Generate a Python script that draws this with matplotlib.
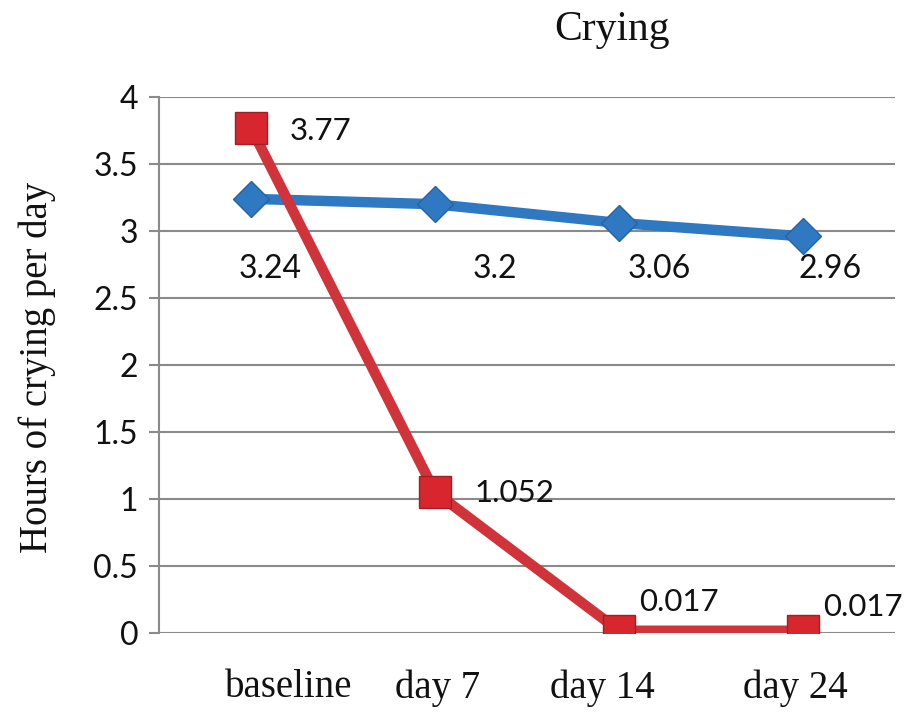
"""
Crying hours per day: placebo-style control vs treatment over follow-up.
"""

import matplotlib
matplotlib.use("Agg")
import matplotlib.pyplot as plt
import matplotlib.transforms as mtransforms

# Data
categories = ["baseline", "day 7", "day 14", "day 24"]
blue_values = [3.24, 3.2, 3.06, 2.96]
red_values = [3.77, 1.052, 0.017, 0.017]
blue_labels = ["3.24", "3.2", "3.06", "2.96"]
red_labels = ["3.77", "1.052", "0.017", "0.017"]
y_ticks = [0, 0.5, 1, 1.5, 2, 2.5, 3, 3.5, 4]
y_tick_labels = ["0", "0.5", "1", "1.5", "2", "2.5", "3", "3.5", "4"]

BLUE = "#2f78c2"
RED = "#d1333a"
GRID = "#8a8a8a"
TEXT = "#111111"
SERIF = "Liberation Serif"
SANS = "Lato"

fig = plt.figure(figsize=(9.06, 7.18), dpi=100)
ax = fig.add_axes([159 / 906, 1 - 633 / 718, (895 - 159) / 906, (633 - 97) / 718])

x = list(range(len(categories)))

ax.plot(x, blue_values, color=BLUE, linewidth=7.5, marker="D", markersize=18,
        markerfacecolor=BLUE, markeredgecolor="#2563a3", markeredgewidth=1,
        solid_capstyle="butt", zorder=3)
ax.plot(x, red_values, color=RED, linewidth=7.5, marker="s", markersize=23,
        markerfacecolor="#d7262e", markeredgecolor="#a81d24", markeredgewidth=1,
        solid_capstyle="butt", zorder=4)

# blue labels sit on a common row below the line
blue_offsets = [19, 60, 40, 27]
for xi, lab, dx in zip(x, blue_labels, blue_offsets):
    ax.annotate(lab, xy=(xi, 2.72), xytext=(dx * 0.72, 0), textcoords="offset points",
                ha="center", va="center", fontsize=23, family=SANS, color=TEXT)

# red labels to the right of each square
red_offsets = [(39, -3), (39, -1), (20, 29), (20, 24)]
for xi, yi, lab, (dx, dy) in zip(x, red_values, red_labels, red_offsets):
    ax.annotate(lab, xy=(xi, yi), xytext=(dx * 0.72, dy * 0.72), textcoords="offset points",
                ha="left", va="center", fontsize=22.5, family=SANS, color=TEXT)

ax.set_xlim(-0.5, 3.5)
ax.set_ylim(0, 4)
ax.set_yticks(y_ticks)
ax.set_yticklabels(y_tick_labels, fontsize=23, family=SANS, color=TEXT)
ax.set_xticks(x)
ax.set_xticklabels(categories, fontsize=28, family=SERIF, color=TEXT)
ax.tick_params(axis="y", length=7, width=1.5, color=GRID, pad=8)
ax.tick_params(axis="x", length=0, pad=26)

# nudge the category labels sideways
label_shift = [38, 3, -17, -8]
for lab, dx in zip(ax.get_xticklabels(), label_shift):
    lab.set_transform(lab.get_transform() + mtransforms.ScaledTranslation(dx / 100, 0, fig.dpi_scale_trans))

ax.yaxis.grid(True, color=GRID, linewidth=1.5)
ax.set_axisbelow(True)
for side in ["top", "right", "bottom"]:
    ax.spines[side].set_visible(False)
ax.spines["left"].set_color(GRID)
ax.spines["left"].set_linewidth(1.5)

fig.text(37 / 906, 1 - 367 / 718, "Hours of crying per day", rotation=90,
         ha="center", va="center", fontsize=28, family=SERIF, color=TEXT)
fig.text(612 / 906, 1 - 30 / 718, "Crying", ha="center", va="center",
         fontsize=30, family=SERIF, color=TEXT)

fig.savefig("out.png", dpi=100, facecolor="white")
